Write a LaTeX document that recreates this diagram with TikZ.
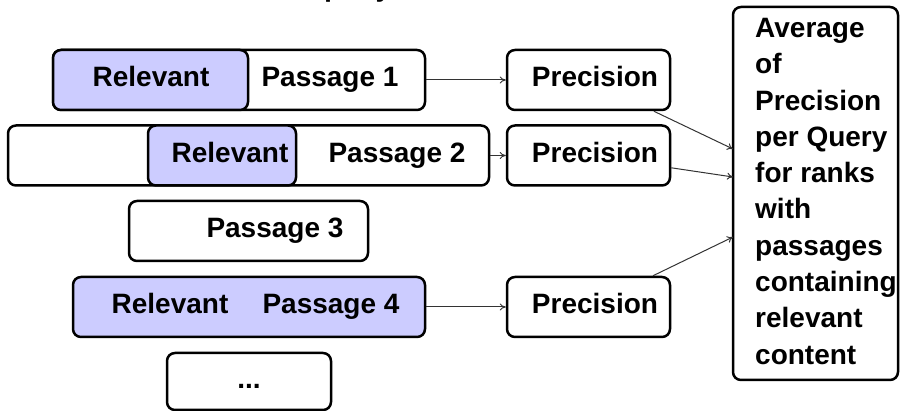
\documentclass[tikz,border=0pt]{standalone}
\usepackage{fontspec}
\setmainfont{Liberation Sans}
\usetikzlibrary{arrows.meta}
\definecolor{relblue}{RGB}{204,204,255}
\tikzset{
    >={To[length=6pt,width=7pt]},
    psgbox/.style={draw,line width=2.5pt,rounded corners=8pt,minimum height=60pt,inner sep=0pt},
    relbox/.style={psgbox,fill=relblue},
    txt/.style={font=\fontsize{28}{36.3}\selectfont\bfseries,inner sep=0pt,text height=20pt,text depth=6pt},
    flow/.style={->,line width=1pt,black!80}
}

\begin{document}
\begin{tikzpicture}[x=1pt,y=1pt]
    \useasboundingbox (0,0) rectangle (900,-411);
    \node[txt,anchor=base] (title) at (353,3) {query};

    % Ranked passages
    \node[psgbox,minimum width=372pt] (row1) at (239,-80) {};
    \node[relbox,minimum width=195pt] (rel1) at (150.5,-80) {};
    \node[txt] (reltxt1) at (151,-80) {Relevant};
    \node[txt] (psg1) at (330,-80) {Passage 1};

    \node[psgbox,minimum width=481pt] (row2) at (248.5,-155.5) {};
    \node[relbox,minimum width=148pt] (rel2) at (222,-155.5) {};
    \node[txt] (reltxt2) at (230,-155.5) {Relevant};
    \node[txt] (psg2) at (397,-155.5) {Passage 2};

    \node[psgbox,minimum width=239pt] (row3) at (248.5,-231) {};
    \node[txt] (psg3) at (275,-231) {Passage 3};

    \node[relbox,minimum width=352pt] (row4) at (249,-307) {};
    \node[txt] (reltxt4) at (170,-307) {Relevant};
    \node[txt] (psg4) at (331,-307) {Passage 4};

    \node[psgbox,minimum width=164pt,minimum height=57pt] (row5) at (249,-381.5) {};
    \node[txt] (more) at (249,-381.5) {...};

    % Precision at each relevant rank
    \node[psgbox,minimum width=163pt] (prec1) at (588.5,-80) {};
    \node[txt] (prectxt1) at (595,-80) {Precision};
    \node[psgbox,minimum width=163pt] (prec2) at (588.5,-155.5) {};
    \node[txt] (prectxt2) at (595,-155.5) {Precision};
    \node[psgbox,minimum width=163pt] (prec4) at (588.5,-307) {};
    \node[txt] (prectxt4) at (595,-307) {Precision};

    % Average
    \node[psgbox,minimum width=165pt,minimum height=373pt] (avg) at (815.5,-193.5) {};
    \node[txt,text height=,text depth=,anchor=north west,align=left] (avgtxt) at (755,-18)
        {Average\\of\\Precision\\per Query\\for ranks\\with\\passages\\containing\\relevant\\content};
    \coordinate (in1) at (733,-149);
    \coordinate (in2) at (733,-177);
    \coordinate (in3) at (733,-237);

    \draw[flow] (row1) -- (prec1);
    \draw[flow] (row2) -- (prec2);
    \draw[flow] (row4) -- (prec4);
    \draw[flow] (prec1) -- (in1);
    \draw[flow] (prec2) -- (in2);
    \draw[flow] (prec4) -- (in3);
\end{tikzpicture}
\end{document}
